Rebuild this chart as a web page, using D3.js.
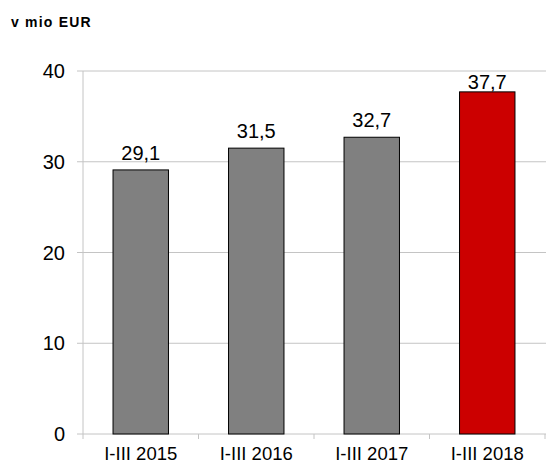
<!DOCTYPE html>
<html>
<head>
<meta charset="utf-8">
<script src="https://cdn.jsdelivr.net/npm/d3@7"></script>
<style>
  body { margin: 0; background: #fff; }
  text { font-family: "Liberation Sans", Arial, sans-serif; }
</style>
</head>
<body>
<svg id="chart" width="546" height="465"></svg>
<script>
const categories = ["I-III 2015", "I-III 2016", "I-III 2017", "I-III 2018"];
const values = [29.1, 31.5, 32.7, 37.7];
const barColors = ["#808080", "#808080", "#808080", "#cc0000"];
const yTicks = [0, 10, 20, 30, 40];

const svg = d3.select("#chart");
const margin = {left: 83, right: 1, top: 71, bottom: 31};
const width = 546 - margin.left - margin.right;
const height = 465 - margin.top - margin.bottom;

svg.append("text")
  .attr("x", 11).attr("y", 27)
  .attr("font-size", 14).attr("font-weight", "bold")
  .attr("letter-spacing", 1.2)
  .text("v mio EUR");

const g = svg.append("g").attr("transform", "translate(" + margin.left + "," + margin.top + ")");

const x = d3.scaleBand().domain(categories).range([0, width]).paddingInner(0.52).paddingOuter(0.26);
const y = d3.scaleLinear().domain([0, 40]).range([height, 0]);

// gridlines + y ticks
g.selectAll(".grid")
  .data(yTicks)
  .enter().append("line")
  .attr("x1", -6).attr("x2", width + 2)
  .attr("y1", d => y(d)).attr("y2", d => y(d))
  .attr("stroke", "#c4c4c4").attr("stroke-width", 1);

g.append("line")
  .attr("x1", 0).attr("x2", 0).attr("y1", 0).attr("y2", height)
  .attr("stroke", "#c4c4c4");

g.selectAll(".ylab")
  .data(yTicks)
  .enter().append("text")
  .attr("x", -18).attr("y", d => y(d))
  .attr("dy", "0.36em")
  .attr("text-anchor", "end")
  .attr("font-size", 20)
  .text(d => d);

// x ticks at band boundaries
const bounds = categories.map(c => x(c) - x.step() * x.paddingInner() / 2);
bounds.push(width);
bounds[0] = 0;
g.selectAll(".xtick")
  .data(bounds)
  .enter().append("line")
  .attr("x1", d => d).attr("x2", d => d)
  .attr("y1", height).attr("y2", height + 5)
  .attr("stroke", "#c4c4c4");

g.selectAll(".xlab")
  .data(categories)
  .enter().append("text")
  .attr("x", d => x(d) + x.bandwidth() / 2)
  .attr("y", height + 26)
  .attr("text-anchor", "middle")
  .attr("font-size", 18.5)
  .text(d => d);

// bars
g.selectAll(".bar")
  .data(values)
  .enter().append("rect")
  .attr("x", (d, i) => x(categories[i]))
  .attr("y", d => y(d))
  .attr("width", x.bandwidth())
  .attr("height", d => height - y(d))
  .attr("fill", (d, i) => barColors[i])
  .attr("stroke", "#000").attr("stroke-width", 1);

// value labels, kept inside the chart area
g.selectAll(".val")
  .data(values)
  .enter().append("text")
  .attr("x", (d, i) => x(categories[i]) + x.bandwidth() / 2)
  .attr("y", d => Math.max(y(d) - 10, y(40) + 18))
  .attr("text-anchor", "middle")
  .attr("font-size", 20)
  .text(d => d.toFixed(1).replace(".", ","));
</script>
</body>
</html>
